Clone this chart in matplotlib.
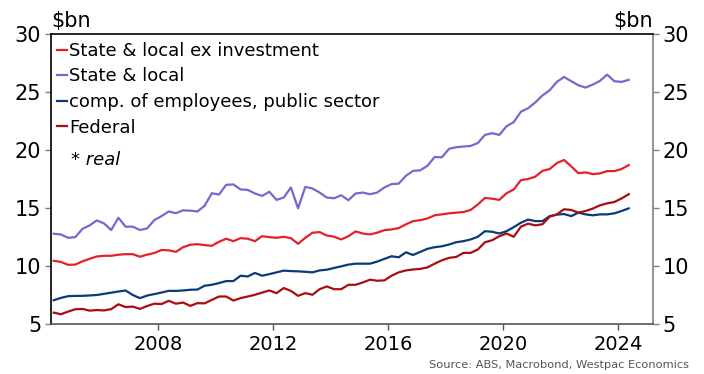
import numpy as np
import pandas as pd
import matplotlib
matplotlib.use("Agg")
import matplotlib.pyplot as plt

plt.rcParams['font.family'] = ['DejaVu Sans']

# quarterly, 2004 Q2 to 2024 Q2 ($bn, real)
quarters = pd.period_range('2004Q2', '2024Q2', freq='Q')

state_local_ex_inv = [
    10.45, 10.35, 10.10, 10.12, 10.40, 10.62, 10.82, 10.88, 10.88, 10.97,
    11.02, 11.02, 10.80, 10.98, 11.12, 11.38, 11.35, 11.22, 11.62, 11.83,
    11.88, 11.80, 11.74, 12.09, 12.35, 12.14, 12.40, 12.35, 12.14, 12.57,
    12.49, 12.43, 12.52, 12.40, 11.91, 12.43, 12.87, 12.92, 12.63, 12.52,
    12.29, 12.57, 12.98, 12.80, 12.72, 12.87, 13.09, 13.15, 13.27, 13.59,
    13.87, 13.95, 14.10, 14.37, 14.45, 14.54, 14.60, 14.65, 14.83, 15.30,
    15.87, 15.80, 15.70, 16.27, 16.60, 17.40, 17.50, 17.70, 18.20, 18.36,
    18.87, 19.14, 18.59, 18.00, 18.07, 17.92, 17.98, 18.18, 18.18, 18.36,
    18.70,
]

state_local = [
    12.78, 12.72, 12.43, 12.49, 13.20, 13.50, 13.93, 13.67, 13.10, 14.16,
    13.39, 13.39, 13.10, 13.24, 13.96, 14.30, 14.70, 14.55, 14.80, 14.77,
    14.70, 15.20, 16.27, 16.16, 17.00, 17.03, 16.60, 16.56, 16.25, 16.04,
    16.40, 15.70, 15.90, 16.77, 14.97, 16.82, 16.68, 16.33, 15.90, 15.84,
    16.10, 15.67, 16.25, 16.33, 16.19, 16.33, 16.77, 17.06, 17.10, 17.78,
    18.20, 18.25, 18.64, 19.40, 19.37, 20.10, 20.24, 20.30, 20.35, 20.60,
    21.30, 21.45, 21.30, 22.05, 22.40, 23.30, 23.60, 24.10, 24.70, 25.15,
    25.87, 26.30, 25.93, 25.58, 25.38, 25.64, 25.96, 26.50, 25.93, 25.87,
    26.05,
]

comp_employees = [
    7.05, 7.25, 7.40, 7.42, 7.43, 7.46, 7.50, 7.60, 7.70, 7.80,
    7.89, 7.50, 7.23, 7.45, 7.58, 7.71, 7.86, 7.85, 7.89, 7.95,
    7.97, 8.30, 8.38, 8.53, 8.70, 8.70, 9.16, 9.10, 9.40, 9.16,
    9.30, 9.45, 9.60, 9.56, 9.54, 9.50, 9.45, 9.62, 9.68, 9.83,
    9.97, 10.12, 10.20, 10.20, 10.20, 10.38, 10.61, 10.84, 10.75, 11.18,
    10.95, 11.22, 11.48, 11.62, 11.70, 11.85, 12.05, 12.14, 12.29, 12.52,
    13.00, 12.95, 12.80, 13.00, 13.35, 13.73, 14.00, 13.87, 13.87, 14.30,
    14.43, 14.48, 14.30, 14.60, 14.45, 14.37, 14.45, 14.45, 14.54, 14.74,
    14.97,
]

federal = [
    5.98, 5.84, 6.07, 6.27, 6.30, 6.15, 6.20, 6.17, 6.28, 6.70,
    6.46, 6.50, 6.30, 6.55, 6.75, 6.72, 7.00, 6.75, 6.85, 6.56,
    6.80, 6.78, 7.08, 7.37, 7.37, 7.02, 7.23, 7.37, 7.52, 7.71,
    7.89, 7.66, 8.10, 7.85, 7.43, 7.66, 7.52, 8.00, 8.24, 8.00,
    8.00, 8.38, 8.38, 8.58, 8.82, 8.73, 8.76, 9.16, 9.45, 9.62,
    9.70, 9.75, 9.88, 10.20, 10.49, 10.70, 10.78, 11.13, 11.13, 11.42,
    12.05, 12.22, 12.57, 12.80, 12.52, 13.39, 13.65, 13.50, 13.60, 14.25,
    14.45, 14.89, 14.83, 14.60, 14.74, 14.95, 15.23, 15.40, 15.52, 15.82,
    16.19,
]

labels = ['State & local ex investment', 'State & local',
          'comp. of employees, public sector', 'Federal']
colors = ['#E5202A', '#7A66D0', '#0B3A78', '#A80D12']
year_ticks = [2008, 2012, 2016, 2020, 2024]
y_ticks = [5, 10, 15, 20, 25, 30]

# decimal year at mid quarter
x = quarters.year + (quarters.quarter - 1) / 4 + 0.125

fig = plt.figure(figsize=(7.04, 3.74), dpi=100)
ax = fig.add_axes([0.0724, 0.1337, 0.8552, 0.7754])

for series, lab, col in zip([state_local_ex_inv, state_local, comp_employees, federal], labels, colors):
    ax.plot(x, series, color=col, lw=1.6, label=lab)

ax.set_xlim(2004.28, 2025.22)
ax.set_ylim(5, 30)
ax.set_xticks(year_ticks)
ax.set_xticklabels([str(y) for y in year_ticks])
ax.set_yticks(y_ticks)

ax.tick_params(axis='y', which='both', left=True, right=True, labelleft=True, labelright=True,
               direction='out', length=4, width=1, labelsize=15, pad=3, colors='black')
ax.tick_params(axis='y', which='both', right=True, color='#808080')
ax.tick_params(axis='x', direction='out', length=4, width=1, labelsize=14, pad=4, color='#555555')

ax.spines['top'].set_color('black')
ax.spines['left'].set_color('black')
ax.spines['right'].set_color('#808080')
ax.spines['bottom'].set_color('#555555')
for s in ax.spines.values():
    s.set_linewidth(1.2)

leg = ax.legend(loc='upper left', bbox_to_anchor=(0.01, 0.973), frameon=False, fontsize=13,
                handlelength=0.55, handletextpad=0.12, labelspacing=0.42, borderpad=0, borderaxespad=0)

ax.text(0.033, 0.566, '* real', transform=ax.transAxes, fontsize=13, style='italic', va='center')

fig.text(51 / 704, 1 - 27 / 374, '$bn', fontsize=15, ha='left', va='baseline')
fig.text(653 / 704, 1 - 27 / 374, '$bn', fontsize=15, ha='right', va='baseline')

fig.text(0.978, 0.012, 'Source: ABS, Macrobond, Westpac Economics', fontsize=8.2,
         color='#555555', ha='right', va='bottom')

fig.savefig('out.png', dpi=100)
